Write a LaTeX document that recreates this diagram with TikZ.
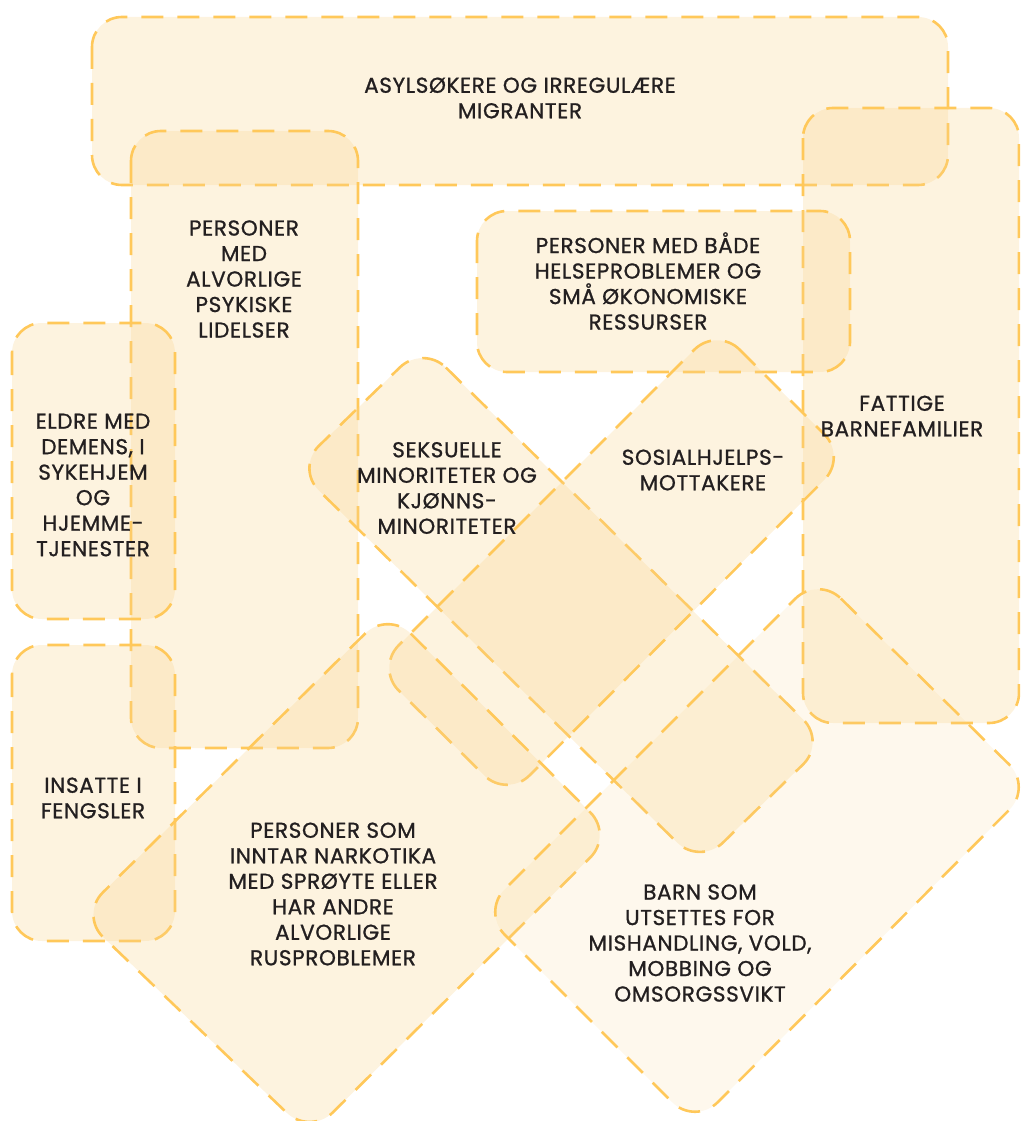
\documentclass[tikz,border=0pt]{standalone}
\usepackage{fontspec}
\setmainfont{Poppins}[LetterSpace=3,FakeBold=1]
\definecolor{dashgold}{RGB}{255,200,90}
\definecolor{cream}{RGB}{248,212,141}
\definecolor{inkdark}{RGB}{35,31,32}
\tikzset{
  grp/.style={fill=cream, fill opacity=0.28, draw=dashgold, line width=2.6pt,
    dash pattern=on 22pt off 14pt, rounded corners=30pt},
  grplight/.style={grp, fill opacity=0.16},
  lbl/.style={text=inkdark, align=center, inner sep=0pt,
    font=\fontsize{21.5}{25.5}\selectfont}
}

\begin{document}
\begin{tikzpicture}[x=1pt,y=-1pt]
      \useasboundingbox (0,0) rectangle (1020,1121);
      \clip (0,0) rectangle (1020,1121);
      % boxes
      \draw[grp] (92,17) rectangle (948,185);
      \draw[grp] (131,131) rectangle (358,748);
      \draw[grp] (803,108) rectangle (1019,723);
      \draw[grp] (477,211) rectangle (850,372);
      \draw[grp] (12,323) rectangle (175,619);
      \draw[grp] (12,645) rectangle (175,941);
      % tilted boxes
      \draw[grp, rounded corners=32pt] (423,345) -- (826,742) -- (700,865) -- (296,468) -- cycle;
      \draw[grp, rounded corners=32pt] (717,327) -- (847,457) -- (507,798) -- (376,668) -- cycle;
      \draw[grp, rounded corners=32pt] (388,611) -- (613,835) -- (310,1135) -- (80,915) -- cycle;
      \draw[grplight, rounded corners=32pt] (818,576) -- (1032,787) -- (695,1125) -- (482,912) -- cycle;
      % labels
      \node[lbl] (asyl) at (520,98) {ASYLSØKERE OG IRREGULÆRE\\MIGRANTER};
      \node[lbl] (psyk) at (244,279) {PERSONER\\MED\\ALVORLIGE\\PSYKISKE\\LIDELSER};
      \node[lbl] (helse) at (648,281) {PERSONER MED BÅDE\\HELSEPROBLEMER OG\\SMÅ ØKONOMISKE\\RESSURSER};
      \node[lbl] (fattig) at (902,416) {FATTIGE\\BARNEFAMILIER};
      \node[lbl] (eldre) at (93,485) {ELDRE MED\\DEMENS, I\\SYKEHJEM\\OG\\HJEMME-\\TJENESTER};
      \node[lbl] (seks) at (447,488) {SEKSUELLE\\MINORITETER OG\\KJØNNS-\\MINORITETER};
      \node[lbl] (sosial) at (703,470) {SOSIALHJELPS-\\MOTTAKERE};
      \node[lbl] (insatt) at (93,798) {INSATTE I\\FENGSLER};
      \node[lbl] (rus) at (333,894) {PERSONER SOM\\INNTAR NARKOTIKA\\MED SPRØYTE ELLER\\HAR ANDRE\\ALVORLIGE\\RUSPROBLEMER};
      \node[lbl] (barn) at (700,943) {BARN SOM\\UTSETTES FOR\\MISHANDLING, VOLD,\\MOBBING OG\\OMSORGSSVIKT};
\end{tikzpicture}
\end{document}
